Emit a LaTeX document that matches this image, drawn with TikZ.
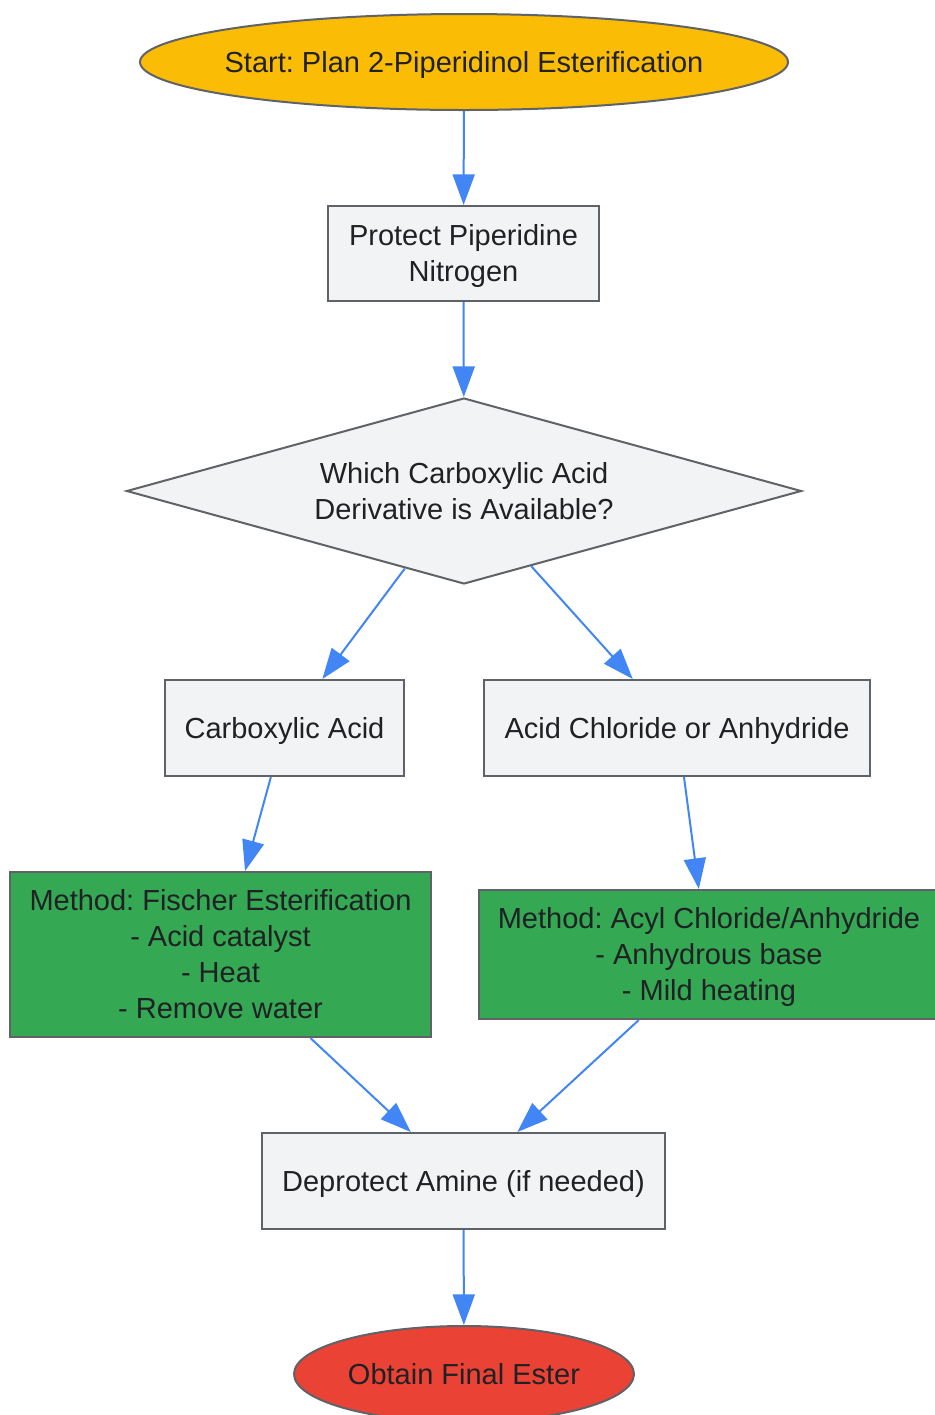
\documentclass[tikz,border=0pt]{standalone}
\usepackage{fontspec}
\setmainfont{Liberation Sans}
\usetikzlibrary{shapes.geometric,arrows.meta,calc}
\definecolor{strokegray}{HTML}{5F6368}
\definecolor{boxgray}{HTML}{F1F3F4}
\definecolor{txt}{HTML}{202124}
\definecolor{arrowblue}{HTML}{4285F4}
\definecolor{startyellow}{HTML}{FBBC05}
\definecolor{methodgreen}{HTML}{34A853}
\definecolor{endred}{HTML}{EA4335}
\newcommand\linestrut{\rule[-5.1pt]{0pt}{25.75pt}}
\frenchspacing
\begin{document}
\begin{tikzpicture}[x=0.75pt,y=-0.75pt,
  base/.style={draw=strokegray, line width=1.5pt, text=txt,
    font=\fontsize{21.75}{27}\selectfont, align=center, inner sep=0pt},
  single/.style={execute at begin node=\linestrut, execute at end node=\linestrut},
  procbox/.style={base, rectangle, fill=boxgray},
  methodbox/.style={base, rectangle, fill=methodgreen},
  oval/.style={base, ellipse},
  decision/.style={base, diamond, fill=boxgray, aspect=3.6},
  flow/.style={draw=arrowblue, line width=1.5pt,
    -{Triangle[length=23pt,width=16.5pt]}}]
\useasboundingbox (0,0) rectangle (935,1415);

\node[oval, single, fill=startyellow, inner xsep=-10pt, inner ysep=-6pt, minimum width=486pt, minimum height=72pt] (start) at (464,62)
  {Start: Plan 2-Piperidinol Esterification};
\node[procbox, minimum width=203.25pt, minimum height=71.25pt] (protect) at (463.5,253.5)
  {\linestrut Protect Piperidine\\Nitrogen\linestrut};
\node[decision, minimum width=506.25pt, minimum height=139.5pt] (dec) at (464,491)
  {\linestrut Which Carboxylic Acid\\Derivative is Available?\linestrut};
\node[procbox, single, minimum width=179.25pt, minimum height=72pt] (carb) at (284.5,728)
  {Carboxylic Acid};
\node[procbox, single, minimum width=289.5pt, minimum height=72pt] (acid) at (677,728)
  {Acid Chloride or Anhydride};
\node[methodbox, minimum width=315.75pt, minimum height=123.75pt] (fischer) at (220.5,954.5)
  {\linestrut Method: Fischer Esterification\\- Acid catalyst\\- Heat\\- Remove water\linestrut};
\node[methodbox, minimum width=345pt, minimum height=96.75pt] (acyl) at (709,954.5)
  {\linestrut Method: Acyl Chloride/Anhydride\\- Anhydrous base\\- Mild heating\linestrut};
\node[procbox, single, minimum width=302.25pt, minimum height=72pt] (deprot) at (463.5,1181)
  {Deprotect Amine (if needed)};
\node[oval, single, fill=endred, minimum width=255pt, minimum height=72pt] (final) at (464,1374)
  {Obtain Final Ester};

\draw[flow] (start) -- (protect);
\draw[flow] (protect) -- (dec);
\draw[flow] ($(dec.west)!0.825!(dec.south)$) -- ($(carb.north west)!0.657!(carb.north east)$);
\draw[flow] ($(dec.south)!0.199!(dec.east)$) -- ($(acid.north west)!0.386!(acid.north east)$);
\draw[flow] ($(carb.south west)!0.4435!(carb.south east)$) -- ($(fischer.north west)!0.558!(fischer.north east)$);
\draw[flow] ($(acid.south west)!0.518!(acid.south east)$) -- ($(acyl.north west)!0.478!(acyl.north east)$);
\draw[flow] ($(fischer.south west)!0.7126!(fischer.south east)$) -- ($(deprot.north west)!0.37!(deprot.north east)$);
\draw[flow] ($(acyl.south west)!0.348!(acyl.south east)$) -- ($(deprot.north west)!0.633!(deprot.north east)$);
\draw[flow] (deprot) -- (final);
\end{tikzpicture}
\end{document}
